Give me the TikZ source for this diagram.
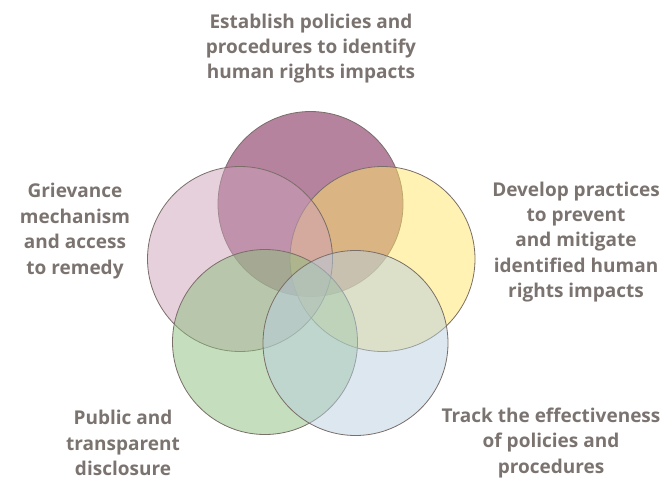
\documentclass[tikz,border=0pt]{standalone}
\usepackage{fontspec}
\setmainfont{Open Sans}
\begin{document}
\definecolor{txt}{HTML}{7B7370}
\definecolor{ring}{HTML}{7A6E69}
\definecolor{cPurple}{HTML}{B5839E}
\definecolor{cPink}{HTML}{CDA1B9}
\definecolor{cYellow}{HTML}{FFE567}
\definecolor{cGreen}{HTML}{8BBF7D}
\definecolor{cBlue}{HTML}{B9CFDF}
\begin{tikzpicture}[x=1pt,y=-1pt,
  petal/.style={circle,draw=ring,line width=0.8pt,minimum size=185pt,inner sep=0pt,fill opacity=0.5},
  caption/.style={align=center,text=txt,font=\fontsize{19}{25.4}\selectfont\bfseries}]
\useasboundingbox (0,0) rectangle (666,479);
% overlapping circles, drawn bottom to top
\node[petal,fill=cPurple,fill opacity=1] (establish) at (310.5,204) {};
\node[petal,fill=cYellow] (develop)   at (382.5,259) {};
\node[petal,fill=cPink]   (grievance) at (240,259) {};
\node[petal,fill=cGreen]  (public)    at (265,342) {};
\node[petal,fill=cBlue]   (track)     at (355.5,343) {};
% captions
\node[caption] (tEstablish) at (311,48.5) {Establish policies and\\procedures to identify\\human rights impacts};
\node[caption] (tGrievance) at (75,231) {Grievance\\mechanism\\and access\\to remedy};
\node[caption] (tDevelop)   at (576,242) {Develop practices\\to prevent\\and mitigate\\identified human\\rights impacts};
\node[caption] (tPublic)    at (123,443) {Public and\\transparent\\disclosure};
\node[caption] (tTrack)     at (551,443) {Track the effectiveness\\of policies and\\procedures};
\end{tikzpicture}
\end{document}
